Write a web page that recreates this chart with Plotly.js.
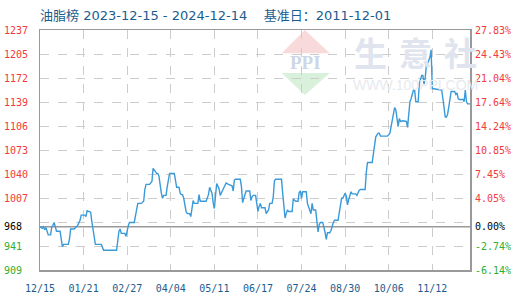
<!DOCTYPE html>
<html><head><meta charset="utf-8">
<script src="https://cdn.plot.ly/plotly-3.0.1.min.js"></script>
<style>html,body{margin:0;padding:0;background:#fff}#c{width:520px;height:300px}</style>
</head><body><div id="c"></div>
<script>
var dates = ['2023-12-15','2023-12-17','2023-12-18','2023-12-19','2023-12-20','2023-12-21','2023-12-22','2023-12-24','2023-12-25','2023-12-26','2023-12-27','2023-12-28','2023-12-29',
'2024-01-01','2024-01-02','2024-01-03','2024-01-04','2024-01-08','2024-01-09','2024-01-10','2024-01-13','2024-01-15','2024-01-16','2024-01-18','2024-01-19','2024-01-22','2024-01-23','2024-01-24','2024-01-27','2024-01-28','2024-01-29','2024-01-30','2024-01-31',
'2024-02-05','2024-02-06','2024-02-07','2024-02-18','2024-02-19','2024-02-20','2024-02-21','2024-02-22','2024-02-25','2024-02-26','2024-02-28','2024-02-29',
'2024-03-04','2024-03-05','2024-03-06','2024-03-07','2024-03-10','2024-03-12','2024-03-13','2024-03-14','2024-03-17','2024-03-19','2024-03-20','2024-03-22','2024-03-23','2024-03-24','2024-03-25','2024-03-27','2024-03-28','2024-03-29','2024-03-31',
'2024-04-01','2024-04-03','2024-04-07','2024-04-08','2024-04-09','2024-04-11','2024-04-12','2024-04-13','2024-04-14','2024-04-15','2024-04-17','2024-04-18','2024-04-20','2024-04-21','2024-04-22','2024-04-23','2024-04-24','2024-04-27','2024-04-28','2024-04-29',
'2024-05-04','2024-05-06','2024-05-07','2024-05-09','2024-05-10','2024-05-11','2024-05-12','2024-05-13','2024-05-15','2024-05-16','2024-05-18','2024-05-19','2024-05-21','2024-05-23','2024-05-26','2024-05-27','2024-05-28','2024-05-29',
'2024-06-02','2024-06-03','2024-06-04','2024-06-05','2024-06-06','2024-06-07','2024-06-10','2024-06-11','2024-06-12','2024-06-13','2024-06-15','2024-06-16','2024-06-17','2024-06-18','2024-06-19','2024-06-20','2024-06-23','2024-06-24','2024-06-26','2024-06-27','2024-06-29','2024-06-30',
'2024-07-01','2024-07-02','2024-07-07','2024-07-08','2024-07-09','2024-07-10','2024-07-11','2024-07-12','2024-07-13','2024-07-16','2024-07-17','2024-07-19','2024-07-21','2024-07-22','2024-07-23','2024-07-24','2024-07-25','2024-07-28','2024-07-29','2024-07-31',
'2024-08-01','2024-08-02','2024-08-03','2024-08-05','2024-08-06','2024-08-07','2024-08-08','2024-08-09','2024-08-11','2024-08-12','2024-08-13','2024-08-14','2024-08-15','2024-08-17','2024-08-18','2024-08-20','2024-08-21','2024-08-24','2024-08-25','2024-08-26','2024-08-27','2024-08-28','2024-08-30','2024-08-31',
'2024-09-01','2024-09-02','2024-09-04','2024-09-05','2024-09-08','2024-09-09','2024-09-11','2024-09-12','2024-09-16','2024-09-17','2024-09-18','2024-09-22','2024-09-23','2024-09-24','2024-09-25','2024-09-27','2024-09-28','2024-09-29',
'2024-10-05','2024-10-07','2024-10-08','2024-10-10','2024-10-11','2024-10-12','2024-10-14','2024-10-15','2024-10-16','2024-10-18','2024-10-21','2024-10-22','2024-10-23','2024-10-24','2024-10-25','2024-10-26','2024-10-27','2024-10-28','2024-10-29','2024-10-31',
'2024-11-01','2024-11-03','2024-11-04','2024-11-05','2024-11-06','2024-11-07','2024-11-08','2024-11-10','2024-11-11','2024-11-12','2024-11-20','2024-11-21','2024-11-22','2024-11-23','2024-11-24','2024-11-25','2024-11-26','2024-11-27','2024-11-28',
'2024-12-01','2024-12-02','2024-12-03','2024-12-04','2024-12-05','2024-12-08','2024-12-09','2024-12-10','2024-12-11','2024-12-12','2024-12-14'];
var values = [968,966,968,964,967,961,957,957,968,970,974,968,962,
962,950,941,944,944,951,965,965,968,970,977,984,984,982,990,988,975,964,951,944,
944,941,936,936,955,962,965,959,959,955,970,974,
974,984,995,1000,1000,1003,1019,1026,1026,1030,1048,1043,1041,1041,1037,1014,1007,1011,1011,
1023,1041,1041,1030,1022,1022,1014,1012,1012,1007,989,986,986,982,993,1004,1000,1000,1012,1003,
1003,1012,1022,1014,1001,993,1011,1027,1020,1011,1018,1022,1028,1026,1024,1017,1032,1033,
1033,1023,1001,1007,1011,1017,1017,1004,1009,1011,1011,1000,989,996,1000,994,994,986,991,1000,1000,1009,
1031,1033,1033,1014,1000,980,986,991,989,989,1006,1003,1003,1015,1017,1007,1016,1016,1000,991,
986,1000,991,991,975,961,971,974,974,968,960,951,960,960,963,974,977,977,986,1000,1007,1007,1014,1010,
998,1005,1016,1013,1013,1011,1018,1019,1019,1043,1056,1056,1068,1080,1091,1096,1096,1092,
1092,1096,1105,1125,1131,1128,1105,1116,1112,1113,1112,1104,1120,1139,1143,1150,1155,1155,1139,1139,
1164,1175,1175,1163,1172,1189,1191,1200,1210,1157,1155,1143,1125,1118,1118,1122,1132,1142,1153,
1153,1149,1151,1143,1142,1142,1139,1155,1139,1136,1136];

var priceTicks = [1237,1204.2,1171.4,1138.6,1105.8,1073,1040.2,1007.4,968,941.8,909];
var priceLabels = ['1237','1205','1172','1139','1106','1073','1040','1007','968','941','909'];
var pctLabels = ['27.83%','24.43%','21.04%','17.64%','14.24%','10.85%','7.45%','4.05%','0.00%','-2.74%','-6.14%'];
var baseValue = 968;
var titleText = '油脂榜 2023-12-15 - 2024-12-14\u00a0\u00a0\u00a0\u00a0基准日：2011-12-01';

var RED = '#f23a3a', GREEN = '#2fae2f', BLACK = '#000';
function colorFor(v){ return v > baseValue ? RED : (v < baseValue ? GREEN : BLACK); }
var leftText = priceLabels.map(function(t,i){
  var pad = t.length < 4 ? '\u00a0' : '';
  return '<span style="color:'+colorFor(priceTicks[i])+'">'+t+pad+'</span>';
});
var rightText = pctLabels.map(function(t,i){
  return '<span style="color:'+colorFor(priceTicks[i])+'">'+t+'</span>';
});

var mono = {family:'DejaVu Sans Mono, Liberation Mono, monospace', size:10};
var traces = [
  {x:dates, y:values, type:'scatter', mode:'lines', line:{color:'#3a9ad9', width:1.4}, hoverinfo:'skip', xaxis:'x', yaxis:'y'},
  {x:[], y:[], type:'scatter', mode:'lines', yaxis:'y2', hoverinfo:'skip', showlegend:false},
  {x:[], y:[], type:'scatter', mode:'lines', yaxis:'y3', hoverinfo:'skip', showlegend:false}
];
var yr = [909,1237];
function px(x){ return (x-40)/430; }
function py(y){ return (270-y)/240; }
var wm = {xref:'paper', yref:'paper', showarrow:false, xanchor:'center', yanchor:'middle'};
function ann(o){ var r = {}; for (var k in wm) r[k]=wm[k]; for (var k2 in o) r[k2]=o[k2]; return r; }
var layout = {
  width:520, height:300,
  margin:{l:40, r:50, t:30, b:30, pad:0},
  paper_bgcolor:'#fff', plot_bgcolor:'#fff',
  showlegend:false,
  title:{text:titleText, x:40/520, xanchor:'left', xref:'container', y:1-15/300, yanchor:'middle', yref:'container',
    font:{family:'DejaVu Sans, Noto Sans CJK SC, sans-serif', size:13, color:'#1b5d8f'}},
  xaxis:{type:'date', range:['2023-12-15','2024-12-14'], tick0:'2023-12-15', dtick:37*86400000, tickformat:'%m/%d',
    showgrid:true, gridcolor:'#cccccc', griddash:'dash', gridwidth:1,
    showline:true, linecolor:'#999', linewidth:1.5, mirror:true, ticks:'', zeroline:false,
    tickfont:{family:mono.family, size:10, color:'#1b5d8f'}, ticklabelstandoff:8, fixedrange:true},
  yaxis:{range:yr, tick0:909, dtick:32.8, showgrid:true, gridcolor:'#cccccc', griddash:'dash', gridwidth:1,
    showticklabels:false, showline:true, linecolor:'#999', linewidth:1.5, mirror:true, ticks:'', zeroline:false, fixedrange:true},
  yaxis2:{overlaying:'y', side:'left', range:yr, tickmode:'array', tickvals:priceTicks, ticktext:leftText,
    showgrid:false, zeroline:false, showline:false, ticks:'', tickfont:mono, ticklabelstandoff:11, fixedrange:true},
  yaxis3:{overlaying:'y', side:'right', range:yr, tickmode:'array', tickvals:priceTicks, ticktext:rightText,
    showgrid:false, zeroline:false, showline:false, ticks:'', tickfont:mono, ticklabelstandoff:4, fixedrange:true},
  shapes:[
    {type:'line', xref:'paper', x0:0, x1:1, yref:'y', y0:baseValue, y1:baseValue, line:{color:'#999', width:1.5}, layer:'between'},
    {type:'path', xref:'paper', yref:'paper', path:'M0.616,1 L0.562,0.903 L0.674,0.903 Z', fillcolor:'#f9dada', line:{width:0}, layer:'below'},
    {type:'path', xref:'paper', yref:'paper', path:'M0.562,0.821 L0.674,0.821 L0.616,0.729 Z', fillcolor:'#d9f0da', line:{width:0}, layer:'below'}
  ],
  annotations:[
    ann({text:'<b>PPI</b>', x:px(305), y:py(62.5), font:{family:'Liberation Serif, serif', size:19, color:'#cdd6e6'}}),
    ann({text:'<b>生</b>', x:px(370), y:py(52), font:{family:'Noto Sans CJK SC', size:33, color:'#dfe4ee'}}),
    ann({text:'<b>意</b>', x:px(415), y:py(52), font:{family:'Noto Sans CJK SC', size:33, color:'#dfe4ee'}}),
    ann({text:'<b>社</b>', x:px(460), y:py(52), font:{family:'Noto Sans CJK SC', size:33, color:'#dfe4ee'}}),
    ann({text:'WWW.100PPI.COM', x:px(415), y:py(85), font:{family:'Liberation Sans, sans-serif', size:14, color:'#e8eaee'}})
  ]
};
Plotly.newPlot('c', traces, layout, {displayModeBar:false, staticPlot:true});
</script></body></html>
